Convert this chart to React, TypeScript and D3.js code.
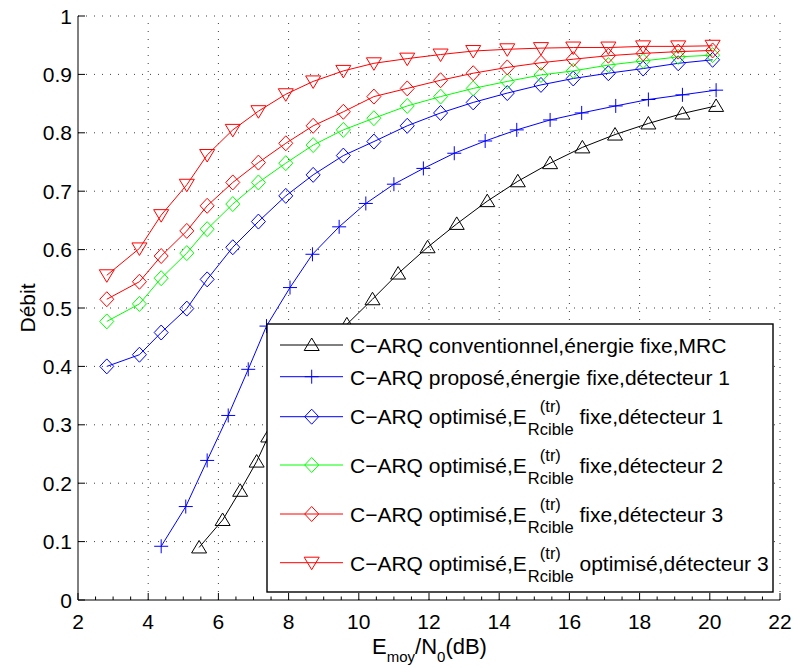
import React from 'react';
import * as d3 from 'd3';

// ---------- data ----------
const xOptim = [2.82, 3.75, 4.37, 5.10, 5.68, 6.41, 7.14, 7.92, 8.70, 9.56, 10.43, 11.38, 12.33, 13.26, 14.23, 15.19, 16.11, 17.11, 18.10, 19.10, 20.08];
const xPropose = [4.37, 5.07, 5.68, 6.28, 6.85, 7.37, 8.04, 8.68, 9.44, 10.2, 11.0, 11.84, 12.72, 13.6, 14.5, 15.45, 16.35, 17.32, 18.25, 19.22, 20.18];
const xConv = [5.45, 6.12, 6.62, 7.09, 7.42, 7.95, 8.55, 9.1, 9.66, 10.39, 11.12, 11.96, 12.79, 13.66, 14.53, 15.45, 16.37, 17.30, 18.25, 19.22, 20.18];

const yConv = [0.09, 0.137, 0.187, 0.237, 0.28, 0.33, 0.38, 0.428, 0.472, 0.515, 0.559, 0.604, 0.644, 0.683, 0.717, 0.748, 0.775, 0.797, 0.816, 0.833, 0.846];
const yPropose = [0.092, 0.16, 0.239, 0.316, 0.395, 0.469, 0.535, 0.592, 0.639, 0.679, 0.712, 0.739, 0.765, 0.786, 0.805, 0.822, 0.834, 0.846, 0.857, 0.865, 0.873];
const yOptDet1 = [0.400, 0.420, 0.458, 0.499, 0.549, 0.604, 0.648, 0.692, 0.728, 0.761, 0.785, 0.812, 0.834, 0.852, 0.868, 0.882, 0.893, 0.902, 0.910, 0.919, 0.925];
const yOptDet2 = [0.477, 0.507, 0.551, 0.594, 0.635, 0.678, 0.715, 0.748, 0.779, 0.805, 0.825, 0.846, 0.862, 0.876, 0.888, 0.899, 0.906, 0.916, 0.923, 0.930, 0.933];
const yOptDet3 = [0.515, 0.545, 0.589, 0.632, 0.675, 0.715, 0.749, 0.782, 0.812, 0.836, 0.862, 0.876, 0.890, 0.902, 0.912, 0.920, 0.926, 0.932, 0.936, 0.939, 0.941];
const yOptOptDet3 = [0.556, 0.602, 0.659, 0.711, 0.762, 0.805, 0.837, 0.866, 0.888, 0.906, 0.919, 0.927, 0.934, 0.940, 0.943, 0.945, 0.946, 0.946, 0.948, 0.948, 0.949];

const xTicks = [2, 4, 6, 8, 10, 12, 14, 16, 18, 20, 22];
const yTicks = [0, 0.1, 0.2, 0.3, 0.4, 0.5, 0.6, 0.7, 0.8, 0.9, 1];
const yTickLabels = ['0', '0.1', '0.2', '0.3', '0.4', '0.5', '0.6', '0.7', '0.8', '0.9', '1'];

type Marker = 'triUp' | 'plus' | 'diamond' | 'triDown';
const seriesNames = ['conv', 'prop', 'opt1', 'opt2', 'opt3', 'optopt3'];
const seriesColors = ['#000000', '#0000ff', '#0000ff', '#00ff00', '#ff0000', '#ff0000'];
const seriesMarkers: Marker[] = ['triUp', 'plus', 'diamond', 'diamond', 'diamond', 'triDown'];
const seriesX = [xConv, xPropose, xOptim, xOptim, xOptim, xOptim];
const seriesY = [yConv, yPropose, yOptDet1, yOptDet2, yOptDet3, yOptOptDet3];

const legendMain = [
  'C\u2212ARQ conventionnel,énergie fixe,MRC',
  'C\u2212ARQ proposé,énergie fixe,détecteur 1',
  'C\u2212ARQ optimisé,E',
  'C\u2212ARQ optimisé,E',
  'C\u2212ARQ optimisé,E',
  'C\u2212ARQ optimisé,E',
];
const legendSup = ['', '', '(tr)', '(tr)', '(tr)', '(tr)'];
const legendSub = ['', '', 'Rcible', 'Rcible', 'Rcible', 'Rcible'];
const legendRest = ['', '', ' fixe,détecteur 1', ' fixe,détecteur 2', ' fixe,détecteur 3', ' optimisé,détecteur 3'];

// ---------- layout ----------
const W = 795;
const H = 668;
const L = 78, R = 780, T = 16, B = 600;
const FONT = "'Liberation Sans', Arial, Helvetica, sans-serif";
const FS = 21;
const FS_SMALL = 16.5;

const markerPath: Record<Marker, string> = {
  triUp: 'M0,-7 L7.5,5.5 L-7.5,5.5 Z',
  triDown: 'M0,7 L7.5,-5.5 L-7.5,-5.5 Z',
  diamond: 'M0,-7.5 L7,0 L0,7.5 L-7,0 Z',
  plus: 'M-7,0 H7 M0,-7 V7',
};

let _ctx: CanvasRenderingContext2D | null = null;
function measure(text: string, size: number): number {
  if (!_ctx) {
    const c = document.createElement('canvas');
    _ctx = c.getContext('2d');
  }
  if (!_ctx) return text.length * size * 0.5;
  _ctx.font = `${size}px ${FONT}`;
  return _ctx.measureText(text).width;
}

export default function App() {
  const x = d3.scaleLinear().domain([2, 22]).range([L, R]);
  const y = d3.scaleLinear().domain([0, 1]).range([B, T]);
  const line = d3.line<[number, number]>().x(d => x(d[0])).y(d => y(d[1]));

  const minorTicks = d3.range(2, 22.001, 0.5).filter(v => Math.abs(v / 2 - Math.round(v / 2)) > 1e-6);

  // legend layout
  const lgX0 = 267, lgX1 = 773, lgY0 = 324, lgY1 = 592;
  const lgLineX0 = 280, lgLineX1 = 343, lgMarkX = 311.7, lgTextX = 350;
  const lgRowY = [345, 376.7, 416.7, 465, 514, 562.7];
  const lgBase = [353, 385, 424, 473, 522, 571];

  return (
    <svg width={W} height={H} style={{ position: 'absolute', left: 0, top: 0, background: '#fff' }}
      fontFamily={FONT}>
      <rect x={0} y={0} width={W} height={H} fill="#fff" />
      {/* grid */}
      <g stroke="#000" strokeWidth={1} strokeDasharray="1 7" opacity={0.75}>
        {xTicks.filter(v => v > 2).map(v => (
          <line key={'gx' + v} x1={x(v)} x2={x(v)} y1={B} y2={T} />
        ))}
        {yTicks.filter(v => v > 0).map(v => (
          <line key={'gy' + v} x1={L} x2={R} y1={y(v)} y2={y(v)} />
        ))}
      </g>
      {/* axes */}
      <g stroke="#000" strokeWidth={1}>
        <line x1={L} x2={R} y1={B} y2={B} />
        <line x1={L} x2={L} y1={B} y2={T} />
        {xTicks.map(v => (
          <line key={'tx' + v} x1={x(v)} x2={x(v)} y1={B} y2={B - 7} />
        ))}
        {minorTicks.map(v => (
          <line key={'mx' + v} x1={x(v)} x2={x(v)} y1={B} y2={B - 3.5} />
        ))}
        {yTicks.map(v => (
          <line key={'ty' + v} x1={L} x2={L + 7} y1={y(v)} y2={y(v)} />
        ))}
      </g>
      {/* tick labels */}
      <g fontSize={FS} fill="#000">
        {xTicks.map(v => (
          <text key={'lx' + v} x={x(v)} y={629} textAnchor="middle">{v}</text>
        ))}
        {yTicks.map((v, i) => (
          <text key={'ly' + v} x={72} y={y(v) + 7.5} textAnchor="end">{yTickLabels[i]}</text>
        ))}
      </g>
      {/* axis labels */}
      <text transform={`translate(35,308) rotate(-90)`} textAnchor="middle" fontSize={FS} fill="#000">Débit</text>
      <text x={372} y={654} fontSize={22} fill="#000">
        <tspan>E</tspan>
        <tspan fontSize={15} dy={8}>moy</tspan>
        <tspan dy={-8}>/N</tspan>
        <tspan fontSize={15} dy={8}>0</tspan>
        <tspan dy={-8}>(dB)</tspan>
      </text>
      {/* series */}
      {seriesNames.map((name, si) => {
        const pts: [number, number][] = seriesX[si].map((xv, i) => [xv, seriesY[si][i]]);
        return (
          <g key={name} stroke={seriesColors[si]} fill="none" strokeWidth={1}>
            <path d={line(pts) || ''} />
            {pts.map((p, i) => (
              <path key={i} d={markerPath[seriesMarkers[si]]} transform={`translate(${x(p[0])},${y(p[1])})`} />
            ))}
          </g>
        );
      })}
      {/* legend */}
      <rect x={lgX0} y={lgY0} width={lgX1 - lgX0} height={lgY1 - lgY0} fill="#fff" stroke="#000" strokeWidth={1.4} />
      {seriesNames.map((name, si) => {
        const cy = lgRowY[si];
        const base = lgBase[si];
        const mainW = measure(legendMain[si], FS);
        const eX = lgTextX + mainW;
        const subW = legendSub[si] ? measure(legendSub[si], FS_SMALL) : 0;
        const supW = legendSup[si] ? measure(legendSup[si], FS_SMALL) : 0;
        const restX = eX + Math.max(subW + 1, supW + 13);
        return (
          <g key={'lg' + name}>
            <line x1={lgLineX0} x2={lgLineX1} y1={cy} y2={cy} stroke={seriesColors[si]} strokeWidth={1} />
            <path d={markerPath[seriesMarkers[si]]} transform={`translate(${lgMarkX},${cy})`} stroke={seriesColors[si]} fill="none" strokeWidth={1} />
            <text x={lgTextX} y={base} fontSize={FS} fill="#000">{legendMain[si]}</text>
            {legendSup[si] && (
              <text x={eX + 13} y={base - 12} fontSize={FS_SMALL} fill="#000">{legendSup[si]}</text>
            )}
            {legendSub[si] && (
              <text x={eX + 1} y={base + 11} fontSize={FS_SMALL} fill="#000">{legendSub[si]}</text>
            )}
            {legendRest[si] && (
              <text x={restX} y={base} fontSize={FS} fill="#000" style={{ whiteSpace: 'pre' }}>{legendRest[si]}</text>
            )}
          </g>
        );
      })}
    </svg>
  );
}
